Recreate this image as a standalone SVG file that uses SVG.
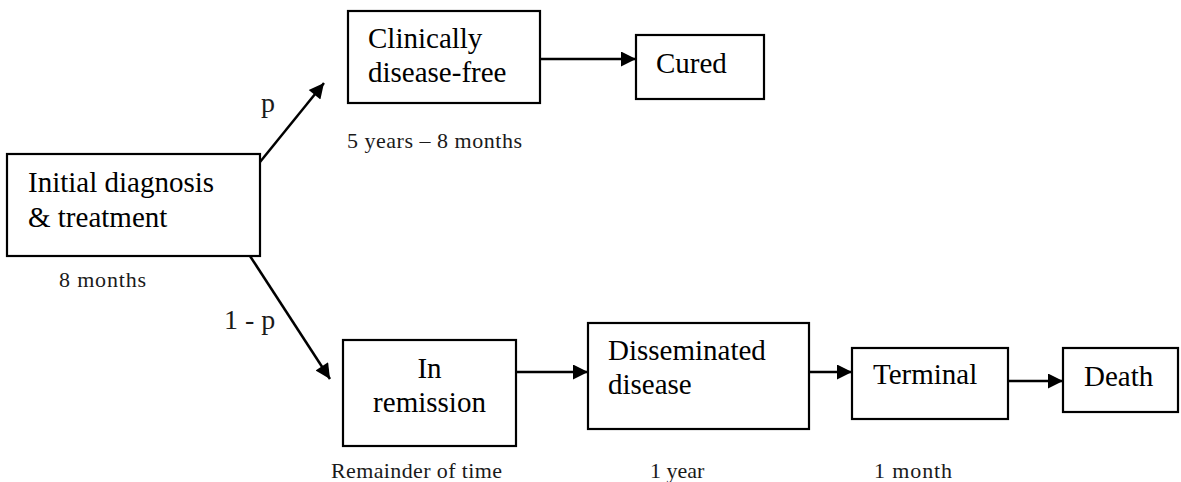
<svg xmlns="http://www.w3.org/2000/svg" width="1181" height="482" viewBox="0 0 1181 482">
  <style>
    .box { fill: #ffffff; stroke: #000000; stroke-width: 2.2; }
    .lbl { font-family: "Liberation Serif", "Times New Roman", serif; font-size: 29px; fill: #000000; }
    .note { font-family: "Liberation Serif", "Times New Roman", serif; font-size: 22px; fill: #1a1a1a; }
    .prob { font-family: "Liberation Serif", "Times New Roman", serif; font-size: 28px; fill: #1a1a1a; }
    .edge { stroke: #000000; stroke-width: 2.5; fill: none; marker-end: url(#head); }
  </style>
  <defs>
    <marker id="head" viewBox="0 0 10 10" refX="10" refY="5" markerUnits="userSpaceOnUse" markerWidth="17" markerHeight="15" orient="auto">
      <path d="M0,0 L10,5 L0,10 Z" fill="#000000"/>
    </marker>
  </defs>
  <rect width="1181" height="482" fill="#ffffff"/>

  <g id="connectors">
    <line class="edge" x1="260" y1="162" x2="324" y2="83"/>
    <line class="edge" x1="250" y1="256" x2="330" y2="379"/>
    <line class="edge" x1="540" y1="59" x2="636" y2="59"/>
    <line class="edge" x1="516" y1="372" x2="588" y2="372"/>
    <line class="edge" x1="809" y1="372" x2="852" y2="372"/>
    <line class="edge" x1="1008" y1="381" x2="1063" y2="381"/>
    <text class="prob" x="261" y="112">p</text>
    <text class="prob" x="224" y="329">1 - p</text>
  </g>

  <g id="initial">
    <rect class="box" x="7" y="154" width="253" height="102"/>
    <text class="lbl" x="28" y="192">Initial diagnosis</text>
    <text class="lbl" x="28" y="227">&amp; treatment</text>
    <text class="note" x="59" y="287" textLength="87" lengthAdjust="spacing">8 months</text>
  </g>

  <g id="disease-free">
    <rect class="box" x="348" y="11" width="192" height="92"/>
    <text class="lbl" x="368" y="48">Clinically</text>
    <text class="lbl" x="368" y="82">disease-free</text>
    <text class="note" x="347" y="148" textLength="175" lengthAdjust="spacing">5 years – 8 months</text>
  </g>

  <g id="cured">
    <rect class="box" x="636" y="35" width="128" height="64"/>
    <text class="lbl" x="656" y="73">Cured</text>
  </g>

  <g id="remission">
    <rect class="box" x="343" y="340" width="173" height="106"/>
    <text class="lbl" x="429.5" y="378" text-anchor="middle">In</text>
    <text class="lbl" x="429.5" y="412" text-anchor="middle">remission</text>
    <text class="note" x="331" y="478" textLength="171" lengthAdjust="spacing">Remainder of time</text>
  </g>

  <g id="disseminated">
    <rect class="box" x="588" y="323" width="221" height="106"/>
    <text class="lbl" x="608" y="360">Disseminated</text>
    <text class="lbl" x="608" y="394">disease</text>
    <text class="note" x="650" y="478">1 year</text>
  </g>

  <g id="terminal">
    <rect class="box" x="852" y="348" width="156" height="71"/>
    <text class="lbl" x="873" y="384">Terminal</text>
    <text class="note" x="874" y="478" textLength="78" lengthAdjust="spacing">1 month</text>
  </g>

  <g id="death">
    <rect class="box" x="1063" y="348" width="115" height="64"/>
    <text class="lbl" x="1084" y="386">Death</text>
  </g>
</svg>
